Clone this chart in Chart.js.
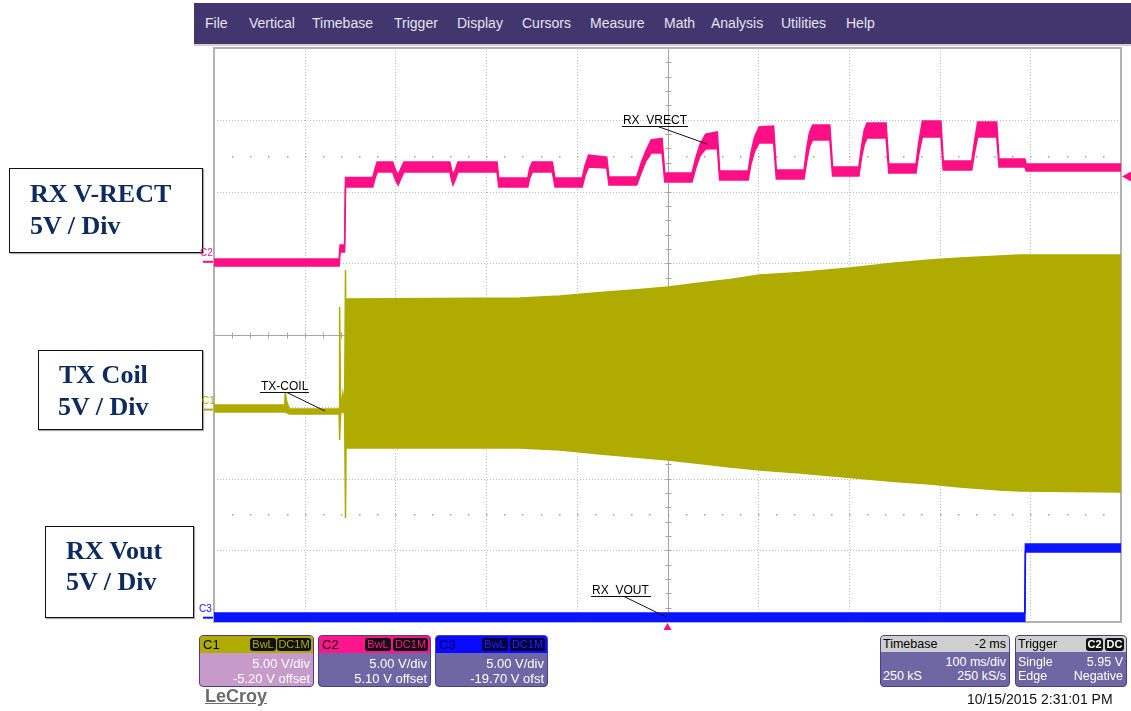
<!DOCTYPE html>
<html><head><meta charset="utf-8">
<script src="https://cdn.jsdelivr.net/npm/chart.js@4.4.1/dist/chart.umd.min.js"></script>
<style>
html,body{margin:0;padding:0;background:#fff;}
#wrap{position:relative;width:1131px;height:711px;overflow:hidden;font-family:"Liberation Sans",Arial,sans-serif;}
#c{position:absolute;left:0;top:0;}
.abs{position:absolute;white-space:nowrap;}
#menu{position:absolute;left:194px;top:3px;width:937px;height:41px;background:#42366f;border-bottom:2px solid #cfcfdc;}
.mi{position:absolute;top:12px;color:#e4e4ee;font-size:14px;line-height:16px;}
.lbox{position:absolute;border:1.5px solid #111;background:#fff;box-shadow:1px 1px 1px #aaa;}
.lt{position:absolute;font-family:"Liberation Serif","Times New Roman",serif;font-weight:bold;color:#0e2b60;font-size:26px;line-height:26px;white-space:nowrap;}
.pan{position:absolute;border:1px solid #4a4085;border-radius:4px;overflow:hidden;font-size:13px;color:#fff;}
.ph{position:absolute;left:0;top:0;right:0;height:17px;}
.pl{position:absolute;left:3px;top:1px;color:#000;line-height:15px;}
.tag{position:absolute;top:2px;height:13px;background:#111;border-radius:3px;text-align:center;line-height:13px;font-size:11px;}
.pr{position:absolute;right:3px;line-height:15px;white-space:nowrap;}
.plf{position:absolute;left:2px;line-height:15px;white-space:nowrap;}
.tp{font-size:12.5px;}
.ann{position:absolute;font-size:12px;line-height:14px;color:#000;white-space:nowrap;}
.chl{position:absolute;font-size:10px;line-height:12px;white-space:nowrap;}
</style>
</head><body>
<div id="wrap">
<canvas id="c" width="1131" height="711"></canvas>

<div id="menu">
  <span class="mi" style="left:11px">File</span>
  <span class="mi" style="left:55px">Vertical</span>
  <span class="mi" style="left:118px">Timebase</span>
  <span class="mi" style="left:200px">Trigger</span>
  <span class="mi" style="left:263px">Display</span>
  <span class="mi" style="left:328px">Cursors</span>
  <span class="mi" style="left:396px">Measure</span>
  <span class="mi" style="left:470px">Math</span>
  <span class="mi" style="left:517px">Analysis</span>
  <span class="mi" style="left:587px">Utilities</span>
  <span class="mi" style="left:652px">Help</span>
</div>

<div class="lbox" style="left:9px;top:168px;width:192px;height:83px;"></div>
<div class="lt" style="left:30px;top:181px;">RX V-RECT</div>
<div class="lt" style="left:30px;top:213px;">5V / Div</div>

<div class="lbox" style="left:38px;top:350px;width:163px;height:78px;"></div>
<div class="lt" style="left:59px;top:362px;">TX Coil</div>
<div class="lt" style="left:58px;top:394px;">5V / Div</div>

<div class="lbox" style="left:45px;top:526px;width:147px;height:90px;"></div>
<div class="lt" style="left:66px;top:538px;">RX Vout</div>
<div class="lt" style="left:66px;top:569px;">5V / Div</div>

<div id="lblC2" class="chl" style="left:200px;color:#ff0f86;">C2</div>
<div id="lblC1" class="chl" style="left:202px;color:#afab00;">C1</div>
<div id="lblC3" class="chl" style="left:199px;color:#0a14ff;">C3</div>

<div id="annVrect" class="ann">RX_VRECT</div>
<div id="annTx" class="ann">TX-COIL</div>
<div id="annVout" class="ann">RX_VOUT</div>

<div class="pan" style="left:199px;top:635px;width:113px;height:50px;background:#c69bca;">
  <div class="ph" style="background:#afab00;"><span class="pl">C1</span>
    <span class="tag" style="left:50px;width:26px;color:#afab00;">BwL</span>
    <span class="tag" style="left:77px;width:34px;color:#afab00;">DC1M</span></div>
  <div class="pr" style="top:20px;">5.00 V/div</div>
  <div class="pr" style="top:35px;">-5.20 V offset</div>
</div>
<div class="pan" style="left:318px;top:635px;width:111px;height:50px;background:#6f67a4;">
  <div class="ph" style="background:#ff168c;"><span class="pl">C2</span>
    <span class="tag" style="left:46px;width:26px;color:#ff168c;">BwL</span>
    <span class="tag" style="left:74px;width:35px;color:#ff168c;">DC1M</span></div>
  <div class="pr" style="top:20px;">5.00 V/div</div>
  <div class="pr" style="top:35px;">5.10 V offset</div>
</div>
<div class="pan" style="left:435px;top:635px;width:111px;height:50px;background:#6f67a4;">
  <div class="ph" style="background:#0a0aff;"><span class="pl" style="color:#00005a;">C3</span>
    <span class="tag" style="left:46px;width:26px;color:#2424ff;background:#00003a;">BwL</span>
    <span class="tag" style="left:74px;width:35px;color:#2424ff;background:#00003a;">DC1M</span></div>
  <div class="pr" style="top:20px;">5.00 V/div</div>
  <div class="pr" style="top:35px;">-19.70 V ofst</div>
</div>

<div class="pan tp" style="left:880px;top:635px;width:128px;height:50px;background:#6f67a4;">
  <div class="ph" style="background:#cfcfcf;height:16px;"><span class="pl" style="left:2px;">Timebase</span>
    <span class="pl" style="left:auto;right:3px;">-2 ms</span></div>
  <div class="pr" style="top:19px;">100 ms/div</div>
  <div class="plf" style="top:33px;">250 kS</div>
  <div class="pr" style="top:33px;">250 kS/s</div>
</div>
<div class="pan tp" style="left:1015px;top:635px;width:110px;height:50px;background:#6f67a4;">
  <div class="ph" style="background:#cfcfcf;height:16px;"><span class="pl" style="left:2px;">Trigger</span>
    <span class="tag" style="left:70px;width:17px;color:#fff;font-weight:bold;">C2</span>
    <span class="tag" style="left:89px;width:19px;color:#fff;font-weight:bold;">DC</span></div>
  <div class="plf" style="top:19px;">Single</div>
  <div class="pr" style="top:19px;">5.95 V</div>
  <div class="plf" style="top:33px;">Edge</div>
  <div class="pr" style="top:33px;">Negative</div>
</div>

<div class="abs" style="left:205px;top:686px;font-size:18px;line-height:20px;font-weight:bold;color:#6b6b6b;text-decoration:underline;">LeCroy</div>
<div class="abs" style="left:967px;top:691px;font-size:14px;line-height:16px;color:#111;">10/15/2015 2:31:01 PM</div>
</div>

<script>
// ---- time axis (ms), 100 ms/div, 10 divisions ----
const X_MIN = -500, X_MAX = 500, MS_PER_DIV = 100, X_DIVS = 10, Y_DIVS = 8;

// ---- C1: TX coil (V), envelope of the switching waveform ----
const txTime = [-500, -422, -421.5, -420, -417, -362, -361.5, -360.5, -358, -356, -355, -354.2, -353.5,
  -162.6, -118.5, -74.4, -30.3, 0.6, 35.8, 68.9, 102.0, 146.1, 201.2, 250.8, 289.4, 322.5, 366.6, 388.7, 500];
const txHigh = [0.32, 0.32, 1.23, 0.6, 0.04, 0.04, 7.15, 0.1, 1.16, 0.2, 9.73, 0.4, 7.71,
  7.78, 7.92, 8.16, 8.37, 8.54, 8.82, 9.07, 9.38, 9.56, 9.87, 10.22, 10.43, 10.57, 10.70, 10.77, 10.77];
const txLow = [-0.17, -0.17, -0.17, -0.2, -0.31, -0.31, -2.12, -0.3, -0.1, -0.3, -7.55, -0.2, -2.67,
  -2.67, -2.81, -3.09, -3.34, -3.51, -3.75, -4.00, -4.21, -4.42, -4.73, -5.01, -5.18, -5.39, -5.60, -5.67, -5.74];

// ---- C2: RX V-RECT (V), envelope ----
const vrectTime = [-500, -362, -361, -356, -355, -325, -322, -320, -303, -300, -297, -294, -290.5, -240, -238, -236.5, -233.5, -231,
  -188, -186, -154, -152, -149, -127, -124, -94, -91, -87, -67, -64.5, -34, -29, -24, -18, -6, -3,
  27, 31, 36, 42, 55, 57.5, 89, 92, 96, 101, 117, 120, 150.5, 153.5, 156.5, 160, 179, 182,
  211, 214, 217, 220, 241, 244, 274, 277, 281, 301.5, 304, 335.5, 338.5, 342, 363, 365.5, 394, 395.5, 500];
const vrectHigh = [0.2, 0.2, 1.17, 1.17, 5.87, 5.87, 6.6, 6.96, 6.96, 6.4, 6.05, 6.5, 6.96, 6.96, 6.4, 6.05, 6.5, 6.96,
  6.96, 5.84, 5.84, 6.5, 6.96, 6.96, 5.84, 5.84, 6.7, 7.44, 7.3, 5.91, 5.91, 6.9, 7.7, 8.49, 8.6, 6.19,
  6.19, 7.2, 8.2, 8.9, 9.05, 6.33, 6.33, 7.6, 8.7, 9.4, 9.46, 6.40, 6.40, 7.9, 9.0, 9.53, 9.53, 6.61,
  6.61, 8.1, 9.2, 9.67, 9.67, 6.82, 6.82, 8.3, 9.81, 9.81, 7.03, 7.03, 8.4, 9.74, 9.74, 7.16, 7.16, 6.82, 6.82];
const vrectLow = [-0.3, -0.3, 0.68, 0.68, 5.21, 5.21, 5.9, 6.26, 6.26, 5.7, 5.35, 5.8, 6.26, 6.26, 5.7, 5.35, 5.8, 6.26,
  6.26, 5.21, 5.21, 5.8, 6.26, 6.26, 5.21, 5.21, 6.0, 6.61, 6.54, 5.35, 5.35, 6.2, 7.0, 7.58, 7.58, 5.56,
  5.56, 6.5, 7.4, 7.86, 7.9, 5.70, 5.70, 6.8, 7.7, 8.28, 8.28, 5.77, 5.77, 7.0, 8.0, 8.49, 8.49, 5.98,
  5.98, 7.3, 8.2, 8.63, 8.63, 6.19, 6.19, 7.5, 8.70, 8.70, 6.40, 6.40, 7.6, 8.70, 8.70, 6.61, 6.61, 6.33, 6.33];

// ---- C3: RX Vout (V), envelope ----
const voutTime = [-500, 394, 394.6, 500];
const voutHigh = [0.33, 0.33, 5.14, 5.14];
const voutLow = [-0.3, -0.3, 4.58, 4.58];

// ---- channel settings: 5 V/div with offsets ----
const C1_RANGE = [-14.8, 25.2], C2_RANGE = [-25.1, 14.9], C3_RANGE = [-0.3, 39.7];
const TRIG_LEVEL = 5.95, TRIG_TIME = 0;

const OLIVE = '#afab00', PINK = '#ff0f86', BLUE = '#0a14ff';

// annotations (data units)
const annotations = [
  {id:'annVrect', axis:'yC2', t0:-50.2, t1:22.6, v:9.46, lt:-10.5, tipT:43.6, tipV:8.21},
  {id:'annTx', axis:'yC1', t0:-449.3, t1:-395.3, v:1.23, lt:-419.5, tipT:-377.6, tipV:-0.10},
  {id:'annVout', axis:'yC3', t0:-84.3, t1:-18.2, v:1.51, lt:-47.9, tipT:-1.6, tipV:0.05}
];
const groundMarks = [
  {id:'lblC2', axis:'yC2', color:PINK},
  {id:'lblC1', axis:'yC1', color:OLIVE},
  {id:'lblC3', axis:'yC3', color:BLUE}
];

const pts = (t, v) => t.map((x, i) => ({x, y: v[i]}));

function seg(ctx, x1, y1, x2, y2){ ctx.beginPath(); ctx.moveTo(x1, y1); ctx.lineTo(x2, y2); ctx.stroke(); }

const scopeGrid = {
  id: 'scopeGrid',
  beforeDatasetsDraw(chart){
    const {ctx, chartArea: a, scales: {x, yDiv}} = chart;
    ctx.save();
    ctx.lineWidth = 1;
    ctx.strokeStyle = '#bcbcbc';
    ctx.setLineDash([1, 2]);
    for (let i = 1; i < X_DIVS; i++){
      if (i === X_DIVS / 2) continue;
      const px = Math.round(x.getPixelForValue(X_MIN + i * MS_PER_DIV)) + 0.5;
      seg(ctx, px, a.top, px, a.bottom);
    }
    for (let j = 1; j < Y_DIVS; j++){
      if (j === Y_DIVS / 2) continue;
      const py = Math.round(yDiv.getPixelForValue(j)) + 0.5;
      seg(ctx, a.left, py, a.right, py);
    }
    ctx.setLineDash([]);
    ctx.strokeStyle = '#a6a6a6';
    const cx = Math.round(x.getPixelForValue((X_MIN + X_MAX) / 2)) + 0.5;
    const cy = Math.round(yDiv.getPixelForValue(Y_DIVS / 2)) + 0.5;
    seg(ctx, cx, a.top, cx, a.bottom);
    seg(ctx, a.left, cy, a.right, cy);
    for (let k = 1; k < X_DIVS * 5; k++){
      const px = Math.round(x.getPixelForValue(X_MIN + k * MS_PER_DIV / 5)) + 0.5;
      seg(ctx, px, cy - 3, px, cy + 3);
    }
    for (let k = 1; k < Y_DIVS * 5; k++){
      const py = Math.round(yDiv.getPixelForValue(k / 5)) + 0.5;
      seg(ctx, cx - 3, py, cx + 3, py);
    }
    ctx.fillStyle = '#a0a0a0';
    for (const r of [1.5, Y_DIVS - 1.5]){
      const py = Math.round(yDiv.getPixelForValue(r));
      for (let k = 1; k < X_DIVS * 5; k++){
        const px = Math.round(x.getPixelForValue(X_MIN + k * MS_PER_DIV / 5));
        ctx.fillRect(px, py, 1.5, 1.5);
      }
    }
    ctx.strokeStyle = '#b2b2b2';
    ctx.lineWidth = 2;
    ctx.strokeRect(a.left, a.top, a.right - a.left, a.bottom - a.top);
    ctx.restore();
  },
  afterDatasetsDraw(chart){
    const {ctx, chartArea: a, scales} = chart;
    const x = scales.x;
    ctx.save();
    // annotation leaders
    ctx.strokeStyle = '#111';
    ctx.lineWidth = 1;
    for (const an of annotations){
      const ys = scales[an.axis];
      const uy = Math.round(ys.getPixelForValue(an.v)) + 0.5;
      seg(ctx, x.getPixelForValue(an.t0), uy, x.getPixelForValue(an.t1), uy);
      seg(ctx, x.getPixelForValue(an.lt), uy, x.getPixelForValue(an.tipT), ys.getPixelForValue(an.tipV));
    }
    // ground markers
    ctx.lineWidth = 2;
    for (const g of groundMarks){
      const gy = scales[g.axis].getPixelForValue(0);
      ctx.strokeStyle = g.color;
      seg(ctx, a.left - 11, gy, a.left - 1, gy);
    }
    // trigger level marker (right) and trigger time marker (bottom)
    ctx.fillStyle = PINK;
    const ty = scales.yC2.getPixelForValue(TRIG_LEVEL);
    ctx.beginPath(); ctx.moveTo(a.right + 1, ty); ctx.lineTo(a.right + 10, ty - 5); ctx.lineTo(a.right + 10, ty + 5); ctx.closePath(); ctx.fill();
    const tx = x.getPixelForValue(TRIG_TIME);
    ctx.beginPath(); ctx.moveTo(tx, a.bottom + 1); ctx.lineTo(tx - 4, a.bottom + 8); ctx.lineTo(tx + 4, a.bottom + 8); ctx.closePath(); ctx.fill();
    ctx.restore();
  }
};

function band(label, t, hi, lo, axis, color){
  return [
    {label: label + ' high', data: pts(t, hi), yAxisID: axis, borderColor: color, borderWidth: 1.5, fill: false, pointRadius: 0},
    {label: label + ' low', data: pts(t, lo), yAxisID: axis, borderColor: color, borderWidth: 1.5, fill: '-1', backgroundColor: color, pointRadius: 0}
  ];
}

const chart = new Chart(document.getElementById('c'), {
  type: 'line',
  data: {
    datasets: [
      ...band('TX-COIL', txTime, txHigh, txLow, 'yC1', OLIVE),
      ...band('RX_VRECT', vrectTime, vrectHigh, vrectLow, 'yC2', PINK),
      ...band('RX_VOUT', voutTime, voutHigh, voutLow, 'yC3', BLUE)
    ]
  },
  options: {
    responsive: false,
    animation: false,
    devicePixelRatio: 1,
    layout: {padding: {left: 214, top: 48, right: 10, bottom: 89}},
    plugins: {legend: {display: false}, tooltip: {enabled: false}},
    elements: {line: {tension: 0}, point: {radius: 0}},
    scales: {
      x: {type: 'linear', min: X_MIN, max: X_MAX, display: false},
      yC1: {type: 'linear', min: C1_RANGE[0], max: C1_RANGE[1], display: false},
      yC2: {type: 'linear', min: C2_RANGE[0], max: C2_RANGE[1], display: false},
      yC3: {type: 'linear', min: C3_RANGE[0], max: C3_RANGE[1], display: false},
      yDiv: {type: 'linear', min: 0, max: Y_DIVS, display: false}
    }
  },
  plugins: [scopeGrid]
});

(function placeLabels(){
  const x = chart.scales.x;
  for (const an of annotations){
    const el = document.getElementById(an.id);
    el.style.left = (x.getPixelForValue(an.t0) + 1) + 'px';
    el.style.top = (chart.scales[an.axis].getPixelForValue(an.v) - 13) + 'px';
  }
  for (const g of groundMarks){
    const el = document.getElementById(g.id);
    el.style.top = (chart.scales[g.axis].getPixelForValue(0) - 15) + 'px';
  }
})();
</script>
</body></html>
